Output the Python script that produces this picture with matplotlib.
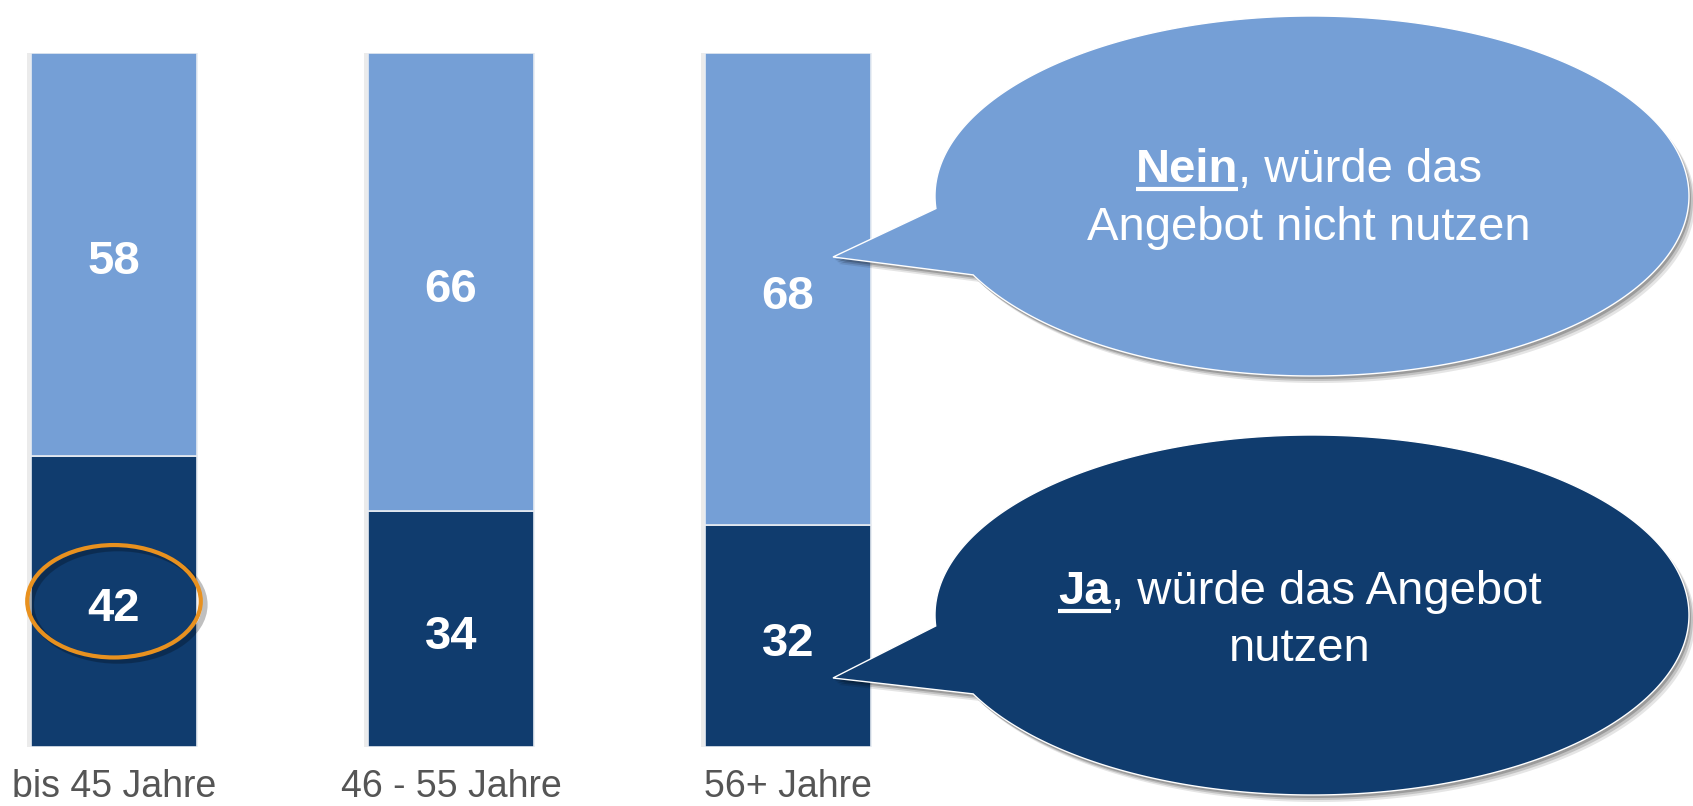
import numpy as np
import matplotlib
matplotlib.use("Agg")
import matplotlib.pyplot as plt
from matplotlib.patches import Polygon, Ellipse

# ---- data ----
categories = ["bis 45 Jahre", "46 - 55 Jahre", "56+ Jahre"]
ja_values = [42, 34, 32]
nein_values = [58, 66, 68]

COL_NEIN = "#759FD6"
COL_JA = "#103C6E"
COL_RING = "#E8911F"
FONT = "Liberation Sans"

W, H = 1693, 806
PX = 6.94  # pixels per data unit
fig = plt.figure(figsize=(W / 100, H / 100), dpi=100)
fig.patch.set_facecolor("white")

# bar axes: y 0..100 spans pixel rows 53..747
ax = fig.add_axes([0, (H - 747) / H, 1, 694 / H])
x = np.arange(len(categories))
ax.set_xlim(-114 / 337, (W - 114) / 337)
ax.set_ylim(0, 100)
ax.axis("off")

bw = 0.495
# faint shadow
ax.bar(x - 0.012, [j + n for j, n in zip(ja_values, nein_values)], width=bw,
       color="#000000", alpha=0.08, zorder=1)
ax.bar(x, ja_values, width=bw, color=COL_JA, edgecolor="#E8ECF2", linewidth=1.2, zorder=2)
ax.bar(x, nein_values, bottom=ja_values, width=bw, color=COL_NEIN,
       edgecolor="#E8ECF2", linewidth=1.2, zorder=2)

lab_off = -20 / PX  # baseline offset so digits sit visually centred (slightly low)
for i in range(len(categories)):
    ax.text(x[i], ja_values[i] / 2 + lab_off, str(ja_values[i]), color="white", fontsize=34,
            fontweight="bold", family=FONT, ha="center", va="baseline", zorder=5)
    ax.text(x[i], ja_values[i] + nein_values[i] / 2 + lab_off, str(nein_values[i]),
            color="white", fontsize=34, fontweight="bold", family=FONT,
            ha="center", va="baseline", zorder=5)
    ax.text(x[i], -50 / PX, categories[i], color="#555555", fontsize=27,
            family=FONT, ha="center", va="baseline", clip_on=False)

# highlight ring around first Ja value
ax.add_patch(Ellipse((x[0] + 0.012, ja_values[0] / 2 - 0.5), 0.515, 16.2, fill=False,
                     edgecolor="#000000", alpha=0.25, linewidth=4, zorder=3))
ax.add_patch(Ellipse((x[0], ja_values[0] / 2), 0.515, 16.2, fill=False,
                     edgecolor=COL_RING, linewidth=3, zorder=4))

# overlay axes in pixel coordinates for callouts
ov = fig.add_axes([0, 0, 1, 1], zorder=10)
ov.set_xlim(0, W)
ov.set_ylim(H, 0)
ov.axis("off")
ov.patch.set_alpha(0)


def bubble_pts(cx, cy, a, b, t_low, t_up, tip):
    ts = np.radians(np.linspace(t_up, t_low + 360, 400))
    pts = np.column_stack([cx + a * np.cos(ts), cy + b * np.sin(ts)])
    return np.vstack([pts, [tip]])


bubbles = [
    dict(cx=1312, cy=196, a=377, b=180, tl=154, tu=176, tip=(833, 257), col=COL_NEIN,
         bold="Nein", rest=", würde das", line2="Angebot nicht nutzen",
         y1=182, y2=240, xc=1309),
    dict(cx=1312, cy=615, a=377, b=180, tl=154, tu=176.5, tip=(833, 678), col=COL_JA,
         bold="Ja", rest=", würde das Angebot", line2="nutzen",
         y1=604, y2=661, xc=1300),
]

renderer = fig.canvas.get_renderer()

for bb in bubbles:
    pts = bubble_pts(bb["cx"], bb["cy"], bb["a"], bb["b"], bb["tl"], bb["tu"], bb["tip"])
    for off, al in [((6, 7), 0.10), ((4, 5), 0.15), ((2, 3), 0.2)]:
        ov.add_patch(Polygon(pts + np.array(off), closed=True, facecolor="#000000",
                             edgecolor="none", alpha=al, zorder=1))
    ov.add_patch(Polygon(pts, closed=True, facecolor=bb["col"], edgecolor="white",
                         linewidth=1.0, zorder=2))
    tb = ov.text(0, bb["y1"], bb["bold"], color="white", fontsize=34, fontweight="bold",
                 family=FONT, ha="left", va="baseline", zorder=3)
    tr = ov.text(0, bb["y1"], bb["rest"], color="white", fontsize=34,
                 family=FONT, ha="left", va="baseline", zorder=3)
    wb = tb.get_window_extent(renderer).width
    wr = tr.get_window_extent(renderer).width
    x0 = bb["xc"] - (wb + wr) / 2
    tb.set_x(x0)
    tr.set_x(x0 + wb)
    ov.plot([x0, x0 + wb], [bb["y1"] + 7, bb["y1"] + 7], color="white", linewidth=3,
            solid_capstyle="butt", zorder=3)
    ov.text(bb["xc"], bb["y2"], bb["line2"], color="white", fontsize=34,
            family=FONT, ha="center", va="baseline", zorder=3)

fig.savefig("out.png", dpi=100, facecolor="white")
